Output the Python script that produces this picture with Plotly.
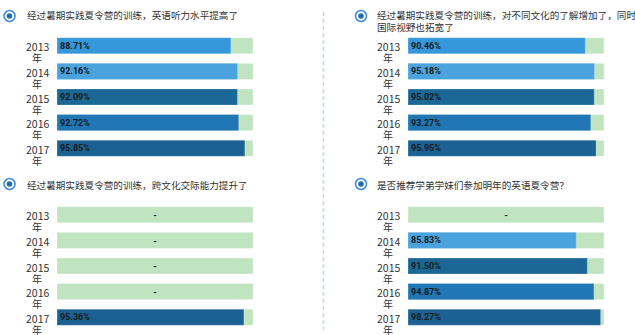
import plotly.graph_objects as go

years = ['2013', '2014', '2015', '2016', '2017']
year_colors = ['#3498db', '#4aa3dd', '#1b6796', '#2077b4', '#1b6194']
bg_color = '#c0e3c0'

titles = [
    '经过暑期实践夏令营的训练，英语听力水平提高了',
    '经过暑期实践夏令营的训练，对不同文化的了解增加了，同时<br>国际视野也拓宽了',
    '经过暑期实践夏令营的训练，跨文化交际能力提升了',
    '是否推荐学弟学妹们参加明年的英语夏令营？',
]
listening = [88.71, 92.16, 92.09, 92.72, 95.85]
culture = [90.46, 95.18, 95.02, 93.27, 95.95]
intercultural = [None, None, None, None, 95.36]
recommend = [None, 85.83, 91.50, 94.87, 98.27]
series = [listening, culture, intercultural, recommend]
full_scale = [100, 100, 100, 100, 100]

W, H = 635, 335
def fx(px): return px / W
def fy(py): return 1 - py / H

panels = [
    dict(x0=57, x1=253, y0=33, y1=161, tx=25, ty=15, ix=9.5, iy=16, lx=37),
    dict(x0=408, x1=604, y0=33, y1=161, tx=375, ty=15, ix=361, iy=16, lx=388),
    dict(x0=57, x1=253, y0=202, y1=330, tx=25, ty=185, ix=9.5, iy=184, lx=37),
    dict(x0=408, x1=604, y0=202, y1=330, tx=375, ty=185, ix=361, iy=184, lx=388),
]

fig = go.Figure()
annotations = []
shapes = []
axes = {}
font_family = 'Noto Sans CJK SC, Noto Sans, sans-serif'

for i, (vals, p) in enumerate(zip(series, panels)):
    n = '' if i == 0 else str(i + 1)
    xa, ya = 'x' + n, 'y' + n
    fig.add_trace(go.Bar(
        x=full_scale, y=years, orientation='h', xaxis=xa, yaxis=ya,
        marker=dict(color=bg_color, line=dict(color='rgba(255,255,255,0.4)', width=1)),
        width=0.63,
        text=['<b>-</b>' if v is None else '' for v in vals],
        textposition='inside', insidetextanchor='middle', textangle=0,
        insidetextfont=dict(color='#222', size=10, family='Roboto, sans-serif'),
        hoverinfo='skip', showlegend=False))
    fig.add_trace(go.Bar(
        x=vals, y=years, orientation='h', xaxis=xa, yaxis=ya,
        marker=dict(color=year_colors, line=dict(color='rgba(255,255,255,0.25)', width=1)),
        width=0.63,
        texttemplate='<b>%{x:.2f}%</b>',
        textposition='inside', insidetextanchor='start', textangle=0,
        insidetextfont=dict(color='#1a1a1a', size=9, family='Roboto, sans-serif'),
        showlegend=False))
    axes['xaxis' + n] = dict(domain=[fx(p['x0']), fx(p['x1'])], range=[0, 100],
                             visible=False, anchor=ya, fixedrange=True)
    axes['yaxis' + n] = dict(domain=[fy(p['y1']), fy(p['y0'])], type='category',
                             categoryorder='array', categoryarray=years,
                             range=[len(years) - 0.5, -0.5], showticklabels=False,
                             showgrid=False, zeroline=False, anchor=xa, fixedrange=True)
    for j, yr in enumerate(years):
        annotations.append(dict(xref='paper', yref=ya, x=fx(p['lx']), y=j, text=yr,
                                showarrow=False, yshift=-1, xanchor='center', yanchor='middle',
                                font=dict(size=10.5, color='#333', family=font_family)))
        annotations.append(dict(xref='paper', yref=ya, x=fx(p['lx']), y=j, text='年',
                                showarrow=False, yshift=-12, xanchor='center', yanchor='middle',
                                font=dict(size=10, color='#333', family=font_family)))
    two = '<br>' in titles[i]
    annotations.append(dict(xref='paper', yref='paper', x=fx(p['tx']),
                            y=fy(p['ty'] + (6 if two else 0)),
                            text=titles[i], showarrow=False, xanchor='left',
                            yanchor='middle', align='left',
                            font=dict(size=9.6, color='#333', family=font_family)))
    r = 5.5
    shapes.append(dict(type='circle', xref='paper', yref='paper',
                       x0=fx(p['ix'] - r), x1=fx(p['ix'] + r),
                       y0=fy(p['iy'] + r), y1=fy(p['iy'] - r),
                       line=dict(color='#3a8ad0', width=1.5), fillcolor='white'))
    r2 = 2.8
    shapes.append(dict(type='circle', xref='paper', yref='paper',
                       x0=fx(p['ix'] - r2), x1=fx(p['ix'] + r2),
                       y0=fy(p['iy'] + r2), y1=fy(p['iy'] - r2),
                       line=dict(width=0), fillcolor='#1f6eb0'))

shapes.append(dict(type='line', xref='paper', yref='paper', x0=fx(323.5), x1=fx(323.5),
                   y0=fy(12), y1=fy(330), line=dict(color='#bfe3bf', width=1.5, dash='4px,3px')))

fig.update_layout(width=W, height=H, margin=dict(l=0, r=0, t=0, b=0, pad=0),
                  barmode='overlay', plot_bgcolor='white', paper_bgcolor='white',
                  annotations=annotations, shapes=shapes,
                  font=dict(family=font_family), **axes)
fig.write_html('out.html', config={'displayModeBar': False},
               post_script="document.body.style.margin='0';document.body.style.overflow='hidden';")
